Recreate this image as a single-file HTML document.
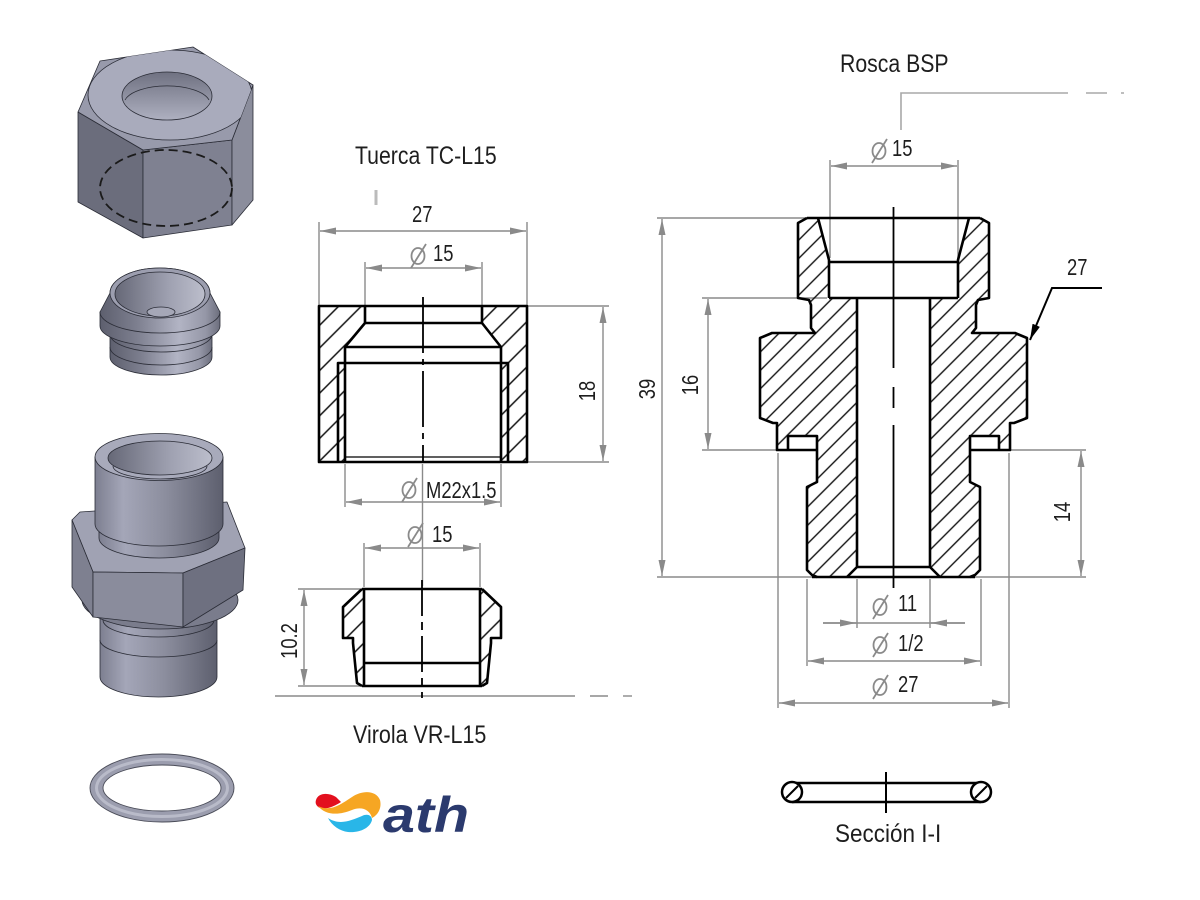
<!DOCTYPE html>
<html><head><meta charset="utf-8"><title>Racor</title>
<style>html,body{margin:0;padding:0;background:#fff;}svg{display:block;}
.t{font-family:"Liberation Sans",sans-serif;fill:#1e1e1e;}
</style></head><body>
<svg width="1200" height="900" viewBox="0 0 1200 900" xmlns="http://www.w3.org/2000/svg">
<defs>
<pattern id="h1" patternUnits="userSpaceOnUse" width="16" height="16" patternTransform="rotate(45)"><line x1="8" y1="-2" x2="8" y2="18" stroke="#111" stroke-width="1.5"/></pattern>
<pattern id="h2" patternUnits="userSpaceOnUse" width="13" height="13" patternTransform="rotate(45)"><line x1="6.5" y1="-2" x2="6.5" y2="15" stroke="#111" stroke-width="1.4"/></pattern>
<marker id="a" viewBox="0 0 16 7" refX="16" refY="3.5" markerWidth="16" markerHeight="7" markerUnits="userSpaceOnUse" orient="auto-start-reverse"><path d="M0,0 L16,3.5 L0,7 z" fill="#8a8a8a"/></marker>
<marker id="ab" viewBox="0 0 16 8" refX="16" refY="4" markerWidth="16" markerHeight="8" markerUnits="userSpaceOnUse" orient="auto"><path d="M0,0 L16,4 L0,8 z" fill="#000"/></marker>
<linearGradient id="gc" x1="0" x2="1" y1="0" y2="0"><stop offset="0" stop-color="#5d5f6e"/><stop offset="0.3" stop-color="#7c7e8e"/><stop offset="0.66" stop-color="#b2b4c4"/><stop offset="0.88" stop-color="#9597a7"/><stop offset="1" stop-color="#6c6e7d"/></linearGradient>
<linearGradient id="gu" x1="0" x2="1" y1="0" y2="0"><stop offset="0" stop-color="#7d7f90"/><stop offset="0.22" stop-color="#a4a6b8"/><stop offset="0.55" stop-color="#8c8e9e"/><stop offset="1" stop-color="#5d5f6e"/></linearGradient>
<linearGradient id="gh" x1="0" x2="0" y1="0" y2="1"><stop offset="0" stop-color="#6f7181"/><stop offset="1" stop-color="#aeb0c0"/></linearGradient>
<linearGradient id="gh2" x1="0" x2="1" y1="0" y2="0"><stop offset="0" stop-color="#666877"/><stop offset="0.6" stop-color="#9fa1b1"/><stop offset="1" stop-color="#bcbecc"/></linearGradient>
<clipPath id="nutTop"><polygon points="78,112 100,61 193,47 253,85 232,140 143,150"/></clipPath>
</defs>
<rect width="1200" height="900" fill="#fff"/>

<!-- ===== 3D NUT ===== -->
<g stroke="#2a2c36" stroke-width="0.8" stroke-linejoin="round">
<polygon points="78,112 143,150 143,238 78,202" fill="#6b6d7c"/>
<polygon points="143,150 232,140 232,225 143,238" fill="#7f8191"/>
<polygon points="232,140 253,85 253,200 232,225" fill="#8b8d9c"/>
<polygon points="78,112 100,61 193,47 253,85 232,140 143,150" fill="#989aab"/>
<ellipse cx="170" cy="95" rx="82" ry="45" fill="#a9abbc" clip-path="url(#nutTop)"/>
<ellipse cx="167" cy="96" rx="45" ry="24" fill="url(#gh)"/>
<path d="M125,100 A43,18 0 0 1 209,100" fill="none"/>
</g>
<ellipse cx="166" cy="188" rx="66" ry="38" fill="none" stroke="#1a1a1a" stroke-width="1.8" stroke-dasharray="9 5"/>

<!-- ===== 3D FERRULE ===== -->
<g stroke="#2a2c36" stroke-width="0.8">
<path d="M110,330 L110,357 A51,18 0 0 0 212,357 L212,330 Z" fill="url(#gc)"/>
<path d="M110,334 A51,18 0 0 0 212,334" fill="none"/>
<path d="M110,347 A51,18 0 0 0 212,347" fill="none"/>
<path d="M100,312 L100,326 A60,20 0 0 0 220,326 L220,312 Z" fill="url(#gc)"/>
<path d="M100,312 L110,293 A50,25 0 0 1 210,293 L220,312 A60,21 0 0 1 100,312 Z" fill="url(#gc)"/>
<ellipse cx="160" cy="293" rx="50" ry="25" fill="#9c9eaf"/>
<ellipse cx="160" cy="294" rx="45" ry="22" fill="url(#gh2)"/>
<ellipse cx="161" cy="312" rx="14" ry="5" fill="#a5a7b7"/>
</g>

<!-- ===== 3D UNION ===== -->
<g stroke="#2a2c36" stroke-width="0.8" stroke-linejoin="round">
<path d="M100,617 L100,677 A58.5,20 0 0 0 217,677 L217,617 Z" fill="url(#gu)"/>
<path d="M100,640 A58.5,17 0 0 0 217,640" fill="none"/>
<path d="M103,600 L103,620 A55.5,17 0 0 0 214,620 L214,600 Z" fill="url(#gu)"/>
<ellipse cx="160" cy="600" rx="78" ry="29" fill="#7a7c8c"/>
<polygon points="72,520 80,512 227,502 245,548 183,573 93,572" fill="#a0a2b3"/>
<polygon points="72,520 93,572 93,617 72,587" fill="#7e8090"/>
<polygon points="93,572 183,573 183,627 93,617" fill="#8a8c9c"/>
<polygon points="183,573 245,548 243,590 183,627" fill="#6e7080"/>
<path d="M99,515 L99,538 A60,20 0 0 0 219,538 L219,515 Z" fill="url(#gu)"/>
<path d="M95,457 L95,524 A64,22 0 0 0 223,524 L223,457 Z" fill="url(#gu)"/>
<ellipse cx="159" cy="457" rx="64" ry="23.5" fill="#a8aabb"/>
<ellipse cx="160" cy="458" rx="52" ry="17" fill="url(#gh2)"/>
<path d="M113,466 A47,13 0 0 0 207,466" fill="none"/>
</g>

<!-- ===== O-RING ===== -->
<path fill-rule="evenodd" d="M90,788 A72,34 0 1 0 234,788 A72,34 0 1 0 90,788 Z M103,788 A59,23 0 1 0 221,788 A59,23 0 1 0 103,788 Z" fill="#9b9dae" stroke="#4a4c58" stroke-width="0.9"/>
<ellipse cx="162" cy="788" rx="65.5" ry="28.5" fill="none" stroke="#b9bbc9" stroke-width="3"/>

<!-- ===== LOGO ===== -->
<path d="M316,800 C318,793 328,792 336,797 L341,802 C335,806 326,810 320,808 C316,806 315,803 316,800 Z" fill="#e3101e"/>
<path d="M318,806 C330,812 340,805 352,797 C362,790 376,790 380,800 C382,808 378,815 372,818 C370,810 362,806 352,810 C340,815 326,816 318,806 Z" fill="#f6a623"/>
<path d="M328,818 C340,826 352,820 362,816 C368,813 372,816 372,820 C370,828 360,833 348,832 C340,831 332,826 328,818 Z" fill="#29b6e8"/>
<text x="383" y="832" font-family="Liberation Sans, sans-serif" font-weight="bold" font-style="italic" font-size="50" fill="#2b3a6e" textLength="86" lengthAdjust="spacingAndGlyphs">ath</text>

<!-- ===== TUERCA ===== -->
<text class="t" font-size="25" transform="translate(355,164) scale(0.85,1)">Tuerca TC-L15</text>
<line x1="376" y1="190" x2="376" y2="205" stroke="#bbb" stroke-width="3"/>
<g stroke="#8a8a8a" stroke-width="1.4" fill="none">
<line x1="319" y1="222" x2="319" y2="305"/>
<line x1="527" y1="222" x2="527" y2="305"/>
<line x1="320" y1="231" x2="526" y2="231" marker-start="url(#a)" marker-end="url(#a)"/>
<line x1="365" y1="262" x2="365" y2="305"/>
<line x1="482" y1="262" x2="482" y2="305"/>
<line x1="366" y1="268" x2="481" y2="268" marker-start="url(#a)" marker-end="url(#a)"/>
<line x1="528" y1="306" x2="609" y2="306"/>
<line x1="528" y1="462" x2="609" y2="462"/>
<line x1="603" y1="307" x2="603" y2="461" marker-start="url(#a)" marker-end="url(#a)"/>
<line x1="345" y1="464" x2="345" y2="507"/>
<line x1="501" y1="464" x2="501" y2="507"/>
<line x1="346" y1="502" x2="500" y2="502" marker-start="url(#a)" marker-end="url(#a)"/>
<line x1="422.5" y1="464" x2="422.5" y2="586"/>
</g>
<path d="M319,306 L365,306 L365,323 L345,347 L345,462 L319,462 Z" fill="url(#h1)"/>
<path d="M482,306 L527,306 L527,462 L501,462 L501,347 L482,323 Z" fill="url(#h1)"/>
<g stroke="#000" stroke-width="2.6" fill="none" stroke-linejoin="round">
<rect x="319" y="306" width="208" height="156"/>
<path d="M365,306 L365,323 L345,347 L345,462 M482,306 L482,323 L501,347 L501,462"/>
<path d="M365,323 L482,323 M345,347 L501,347"/>
<path d="M338,462 L338,363 L508,363 L508,462"/>
</g>
<line x1="345" y1="457" x2="501" y2="457" stroke="#000" stroke-width="1.2"/>
<line x1="423" y1="297" x2="423" y2="462" stroke="#000" stroke-width="1.8" stroke-dasharray="56 6 6 6"/>
<text class="t" font-size="23" transform="translate(412,222) scale(0.8,1)">27</text>
<text class="t" font-size="23" transform="translate(433,261) scale(0.8,1)">15</text>
<text class="t" font-size="23" text-anchor="middle" transform="translate(595,391) rotate(-90) scale(0.8,1)">18</text>
<text class="t" font-size="23" transform="translate(426,498) scale(0.8,1)">M22x1.5</text>

<!-- ===== VIROLA ===== -->
<g stroke="#8a8a8a" stroke-width="1.4" fill="none">
<line x1="364" y1="543" x2="364" y2="587"/>
<line x1="480" y1="543" x2="480" y2="587"/>
<line x1="365" y1="548" x2="479" y2="548" marker-start="url(#a)" marker-end="url(#a)"/>
<line x1="298" y1="589" x2="360" y2="589"/>
<line x1="298" y1="686" x2="360" y2="686"/>
<line x1="304" y1="590" x2="304" y2="685" marker-start="url(#a)" marker-end="url(#a)"/>
<line x1="275" y1="696" x2="575" y2="696"/>
<line x1="590" y1="696" x2="608" y2="696"/>
<line x1="623" y1="696" x2="632" y2="696"/>
</g>
<path d="M362,589 L364,589 L364,686 L362,686 L357,683 L353,643 L353,638 L343,638 L343,607 Z" fill="url(#h1)"/>
<path d="M482,589 L480,589 L480,686 L482,686 L487,683 L491,643 L491,638 L501,638 L501,607 Z" fill="url(#h1)"/>
<g stroke="#000" stroke-width="2.6" fill="none" stroke-linejoin="round">
<path d="M362,589 L482,589 M362,686 L482,686 M364,589 L364,686 M480,589 L480,686 M364,663 L480,663"/>
<path d="M362,589 L343,607 L343,638 L353,638 L353,643 L357,683 L362,686"/>
<path d="M482,589 L501,607 L501,638 L491,638 L491,643 L487,683 L482,686"/>
</g>
<line x1="422" y1="580" x2="422" y2="698" stroke="#000" stroke-width="1.8" stroke-dasharray="36 6 8 6"/>
<text class="t" font-size="23" transform="translate(432,542) scale(0.8,1)">15</text>
<text class="t" font-size="23" text-anchor="middle" transform="translate(297,641) rotate(-90) scale(0.8,1)">10.2</text>
<text class="t" font-size="25" transform="translate(353,743) scale(0.86,1)">Virola VR-L15</text>

<!-- ===== FITTING (Rosca BSP) ===== -->
<text class="t" font-size="25" transform="translate(840,72) scale(0.85,1)">Rosca BSP</text>
<g stroke="#a8a8a8" stroke-width="1.6" fill="none">
<path d="M901,130 L901,93 L1068,93 M1086,93 L1107,93 M1121,93 L1124,93"/>
</g>
<g stroke="#8a8a8a" stroke-width="1.4" fill="none">
<line x1="830" y1="160" x2="830" y2="258"/>
<line x1="958" y1="160" x2="958" y2="258"/>
<line x1="831" y1="166" x2="957" y2="166" marker-start="url(#a)" marker-end="url(#a)"/>
<line x1="657" y1="218" x2="812" y2="218"/>
<line x1="657" y1="577" x2="1086" y2="577"/>
<line x1="662" y1="219" x2="662" y2="576" marker-start="url(#a)" marker-end="url(#a)"/>
<line x1="702" y1="298" x2="827" y2="298"/>
<line x1="702" y1="450" x2="777" y2="450"/>
<line x1="708" y1="299" x2="708" y2="449" marker-start="url(#a)" marker-end="url(#a)"/>
<line x1="1011" y1="450" x2="1086" y2="450"/>
<line x1="1081" y1="451" x2="1081" y2="576" marker-start="url(#a)" marker-end="url(#a)"/>
<line x1="857" y1="579" x2="857" y2="628"/>
<line x1="930" y1="579" x2="930" y2="628"/>
<line x1="823" y1="623" x2="965" y2="623"/>
<line x1="823" y1="623" x2="856" y2="623" marker-end="url(#a)"/>
<line x1="965" y1="623" x2="931" y2="623" marker-end="url(#a)"/>
<line x1="807" y1="579" x2="807" y2="666"/>
<line x1="981" y1="579" x2="981" y2="666"/>
<line x1="808" y1="661" x2="980" y2="661" marker-start="url(#a)" marker-end="url(#a)"/>
<line x1="778" y1="453" x2="778" y2="708"/>
<line x1="1009" y1="453" x2="1009" y2="708"/>
<line x1="779" y1="703" x2="1008" y2="703" marker-start="url(#a)" marker-end="url(#a)"/>
</g>
<path d="M807,218 L818,218 L829,260 L829,298 L857,298 L857,567 L847,577 L817,577 L812,575 L807,570 L807,487 L817,482 L817,436 L788,436 L788,450 L777,450 L777,423 L773,423 L760,418 L760,338 L772,333 L815,333 L811,328 L811,305 L809,300 L798,298 L798,223 Z" fill="url(#h2)"/>
<path d="M980,218 L969,218 L958,260 L958,298 L930,298 L930,567 L940,577 L970,577 L975,575 L980,570 L980,487 L970,482 L970,436 L999,436 L999,450 L1010,450 L1010,423 L1014,423 L1027,418 L1027,338 L1015,333 L972,333 L976,328 L976,305 L978,300 L989,298 L989,223 Z" fill="url(#h2)"/>
<g stroke="#000" stroke-width="2.6" fill="none" stroke-linejoin="round">
<path d="M807,218 L980,218"/>
<path d="M818,218 L829,260 L829,298 M969,218 L958,260 L958,298"/>
<path d="M829,262 L958,262 M829,298 L958,298"/>
<path d="M857,298 L857,567 L847,577 M930,298 L930,567 L940,577 M857,567 L930,567"/>
<path d="M812,577 L975,577"/>
<path d="M807,218 L798,223 L798,298 L809,300 L811,305 L811,328 L815,333 L772,333 L760,338 L760,418 L773,423 L777,423 L777,450 L817,450 M788,450 L788,436 L817,436 L817,482 L807,487 L807,570 L812,575 L817,577"/>
<path d="M980,218 L989,223 L989,298 L978,300 L976,305 L976,328 L972,333 L1015,333 L1027,338 L1027,418 L1014,423 L1010,423 L1010,450 L970,450 M999,450 L999,436 L970,436 L970,482 L980,487 L980,570 L975,575 L970,577"/>
</g>
<g stroke="#000" stroke-width="1.8">
<line x1="893.5" y1="207" x2="893.5" y2="368"/>
<line x1="893.5" y1="387" x2="893.5" y2="408"/>
<line x1="893.5" y1="425" x2="893.5" y2="588"/>
</g>
<path d="M1102,288 L1052,288 L1030,340" stroke="#000" stroke-width="2" fill="none" marker-end="url(#ab)"/>
<text class="t" font-size="23" transform="translate(1067,275) scale(0.8,1)">27</text>
<text class="t" font-size="23" transform="translate(892,156) scale(0.8,1)">15</text>
<text class="t" font-size="23" text-anchor="middle" transform="translate(655,389) rotate(-90) scale(0.8,1)">39</text>
<text class="t" font-size="23" text-anchor="middle" transform="translate(698,385) rotate(-90) scale(0.8,1)">16</text>
<text class="t" font-size="23" text-anchor="middle" transform="translate(1070,512) rotate(-90) scale(0.8,1)">14</text>
<text class="t" font-size="23" transform="translate(898,611) scale(0.8,1)">11</text>
<text class="t" font-size="23" transform="translate(898,651) scale(0.8,1)">1/2</text>
<text class="t" font-size="23" transform="translate(898,692) scale(0.8,1)">27</text>

<!-- diameter symbols -->
<g stroke="#8a8a8a" stroke-width="1.8" fill="none">
<g transform="translate(418,256)"><ellipse rx="6.5" ry="8"/><line x1="-7" y1="12" x2="8" y2="-12"/></g>
<g transform="translate(409,490)"><ellipse rx="6.5" ry="8"/><line x1="-7" y1="12" x2="8" y2="-12"/></g>
<g transform="translate(415,535)"><ellipse rx="6.5" ry="8"/><line x1="-7" y1="12" x2="8" y2="-12"/></g>
<g transform="translate(879,151)"><ellipse rx="6.5" ry="8"/><line x1="-7" y1="12" x2="8" y2="-12"/></g>
<g transform="translate(880,607)"><ellipse rx="6.5" ry="8"/><line x1="-7" y1="12" x2="8" y2="-12"/></g>
<g transform="translate(880,645)"><ellipse rx="6.5" ry="8"/><line x1="-7" y1="12" x2="8" y2="-12"/></g>
<g transform="translate(880,687)"><ellipse rx="6.5" ry="8"/><line x1="-7" y1="12" x2="8" y2="-12"/></g>
</g>

<!-- ===== SECTION I-I ===== -->
<g stroke="#000" stroke-width="2.5" fill="none">
<line x1="792" y1="783" x2="981" y2="783"/>
<line x1="792" y1="802" x2="981" y2="802"/>
<circle cx="792" cy="792" r="10" fill="#fff"/>
<circle cx="981" cy="792" r="10" fill="#fff"/>
<line x1="786" y1="798" x2="798" y2="786" stroke-width="2"/>
<line x1="975" y1="798" x2="987" y2="786" stroke-width="2"/>
<line x1="886" y1="772" x2="886" y2="813" stroke-width="2"/>
</g>
<text class="t" font-size="25" transform="translate(835,842) scale(0.9,1)">Sección I-I</text>
</svg>
</body></html>
